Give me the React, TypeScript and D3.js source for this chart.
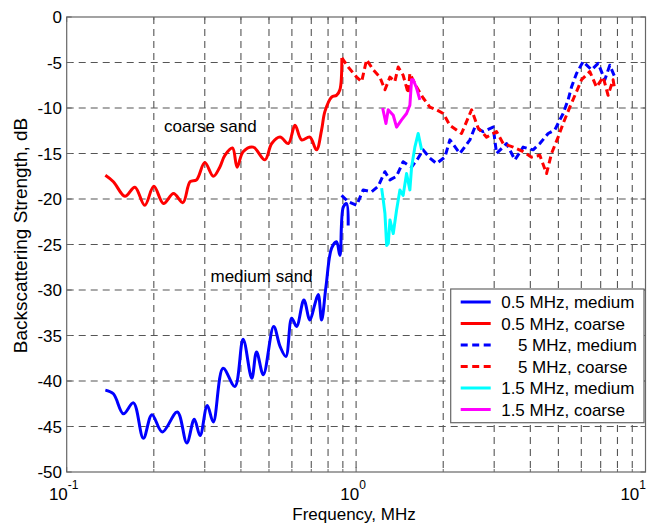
import * as d3 from 'd3'

const W = 649
const H = 527
const plotLeft = 66.7
const plotRight = 645.5
const plotTop = 17
const plotBottom = 472

// frequency (MHz), backscattering strength (dB)
const medium05: [number, number][] = [
  [0.136, -41.0], [0.145, -41.4], [0.157, -43.6], [0.17, -42.4], [0.184, -46.3],
  [0.197, -43.7], [0.214, -45.6], [0.241, -43.4], [0.26, -46.8], [0.276, -44.2],
  [0.289, -46.0], [0.306, -42.7], [0.321, -44.5], [0.347, -38.6], [0.381, -40.6],
  [0.407, -35.4], [0.436, -39.7], [0.453, -36.8], [0.478, -39.3], [0.519, -34.0],
  [0.546, -36.2], [0.572, -37.3], [0.599, -33.1], [0.623, -34.0], [0.66, -31.1],
  [0.692, -33.3], [0.721, -31.5], [0.74, -30.5], [0.76, -33.3], [0.787, -29.6],
  [0.823, -25.4], [0.856, -24.7], [0.879, -26.2], [0.903, -20.9], [0.927, -20.5],
  [0.939, -22.9],
]

const coarse05: [number, number][] = [
  [0.136, -17.4], [0.145, -18.1], [0.159, -19.7], [0.172, -18.7], [0.186, -20.7],
  [0.2, -18.6], [0.216, -20.5], [0.234, -19.4], [0.252, -20.4], [0.267, -18.1],
  [0.281, -17.9], [0.3, -16.0], [0.321, -17.5], [0.338, -16.5], [0.352, -15.2],
  [0.374, -14.4], [0.388, -16.5], [0.407, -14.8], [0.441, -14.3], [0.484, -15.7],
  [0.511, -13.9], [0.546, -13.2], [0.583, -13.9], [0.615, -11.9], [0.648, -13.5],
  [0.692, -13.2], [0.73, -14.6], [0.76, -12.4], [0.78, -10.4], [0.823, -8.8],
  [0.856, -8.6], [0.879, -8.0], [0.893, -4.5],
]

const medium5: [number, number][] = [
  [0.891, -19.6], [0.939, -20.3], [1.004, -20.7], [1.058, -19.0], [1.131, -19.2],
  [1.192, -18.6], [1.258, -17.0], [1.309, -17.9], [1.38, -17.5], [1.454, -15.9],
  [1.555, -16.5], [1.639, -15.5], [1.705, -14.6], [1.798, -15.5], [1.897, -16.1],
  [2.027, -15.4], [2.109, -13.5], [2.283, -15.0], [2.473, -13.5], [2.573, -12.1],
  [2.748, -12.6], [2.976, -12.1], [3.057, -15.0], [3.311, -13.9], [3.537, -15.7],
  [3.778, -14.3], [4.09, -14.6], [4.314, -13.9], [4.609, -12.8], [4.862, -12.4],
  [5.193, -10.6], [5.403, -9.1], [5.551, -7.7], [5.777, -6.2], [6.088, -4.9],
  [6.509, -5.8], [6.86, -5.1], [7.233, -6.9], [7.527, -5.3], [7.834, -6.6],
]

const coarse5: [number, number][] = [
  [0.893, -4.5], [0.939, -5.5], [1.004, -6.6], [1.045, -7.1], [1.087, -4.7],
  [1.146, -5.8], [1.208, -6.6], [1.258, -8.0], [1.309, -6.6], [1.361, -7.1],
  [1.398, -5.5], [1.454, -6.4], [1.514, -8.4], [1.534, -6.2], [1.618, -7.7],
  [1.705, -8.9], [1.798, -9.9], [1.897, -10.2], [2.0, -10.6], [2.109, -11.9],
  [2.314, -12.8], [2.506, -10.2], [2.641, -12.2], [2.823, -13.2], [3.057, -12.6],
  [3.222, -13.9], [3.489, -14.3], [3.778, -14.8], [4.038, -15.4], [4.314, -15.2],
  [4.55, -17.2], [4.735, -15.0], [4.99, -13.2], [5.193, -11.7], [5.477, -9.9],
  [5.777, -8.2], [6.011, -6.9], [6.42, -6.0], [6.772, -7.7], [7.137, -6.6],
  [7.426, -8.6], [7.727, -6.9], [7.834, -8.0],
]

const medium15: [number, number][] = [
  [1.225, -18.8], [1.241, -20.1], [1.258, -21.6], [1.275, -25.1], [1.292, -24.9],
  [1.309, -22.3], [1.344, -23.8], [1.38, -21.2], [1.417, -19.0], [1.454, -19.6],
  [1.494, -17.2], [1.534, -19.0], [1.555, -16.5], [1.596, -14.3], [1.639, -12.8],
  [1.684, -14.6],
]

const coarse15: [number, number][] = [
  [1.235, -10.0], [1.268, -11.7], [1.291, -10.2], [1.344, -10.8], [1.38, -12.1],
  [1.436, -11.3], [1.494, -10.6], [1.534, -9.7], [1.555, -6.9], [1.575, -6.9],
  [1.618, -7.8], [1.661, -9.1],
]

const legendLabels = [
  '0.5 MHz, medium',
  '0.5 MHz, coarse',
  '5 MHz, medium',
  '5 MHz, coarse',
  '1.5 MHz, medium',
  '1.5 MHz, coarse',
]

const xMajor = [0.1, 1, 10]
const xExp = ['-1', '0', '1']
const yTicks = [0, -5, -10, -15, -20, -25, -30, -35, -40, -45, -50]

const series = [
  { data: medium05, color: '#0000ff', dashed: false, smooth: true },
  { data: coarse05, color: '#ff0000', dashed: false, smooth: true },
  { data: medium5, color: '#0000ff', dashed: true, smooth: false },
  { data: coarse5, color: '#ff0000', dashed: true, smooth: false },
  { data: medium15, color: '#00ffff', dashed: false, smooth: false },
  { data: coarse15, color: '#ff00ff', dashed: false, smooth: false },
]

const font = '"Liberation Sans", Arial, sans-serif'

export default function App() {
  const x = d3.scaleLog().domain([0.1, 10]).range([plotLeft, plotRight])
  const y = d3.scaleLinear().domain([-50, 0]).range([plotBottom, plotTop])

  // grid at every decade and each minor step in between
  const xGrid = x.ticks().filter(v => v > 0.1 && v < 10)

  const line = d3
    .line<[number, number]>()
    .x(d => x(d[0]))
    .y(d => y(d[1]))
  const smoothLine = d3
    .line<[number, number]>()
    .x(d => x(d[0]))
    .y(d => y(d[1]))
    .curve(d3.curveCatmullRom.alpha(0.5))

  const legX = 450.7
  const legY = 289
  const legW = 193.3
  const legH = 133.7
  const rowH = 21.5

  return (
    <svg
      width={W}
      height={H}
      style={{ position: 'absolute', left: 0, top: 0, background: '#fff' }}
      fontFamily={font}
    >
      <rect x={0} y={0} width={W} height={H} fill="#fff" />

      {/* grid */}
      <g stroke="#555" strokeWidth={1.1} strokeDasharray="7,5">
        {xGrid.map(v => (
          <line key={'gx' + v} x1={x(v)} x2={x(v)} y1={plotTop} y2={plotBottom} />
        ))}
        {yTicks
          .filter(v => v !== 0 && v !== -50)
          .map(v => (
            <line key={'gy' + v} x1={plotLeft} x2={plotRight} y1={y(v)} y2={y(v)} />
          ))}
      </g>

      {/* frame */}
      <rect
        x={plotLeft}
        y={plotTop}
        width={plotRight - plotLeft}
        height={plotBottom - plotTop}
        fill="none"
        stroke="#666"
        strokeWidth={1.2}
      />

      {/* tick marks */}
      <g stroke="#666" strokeWidth={1}>
        {yTicks.map(v => (
          <g key={'ty' + v}>
            <line x1={plotLeft} x2={plotLeft + 5} y1={y(v)} y2={y(v)} />
            <line x1={plotRight} x2={plotRight - 5} y1={y(v)} y2={y(v)} />
          </g>
        ))}
        {x.ticks().map(v => (
          <g key={'tx' + v}>
            <line x1={x(v)} x2={x(v)} y1={plotBottom} y2={plotBottom - (xMajor.includes(v) ? 5 : 3)} />
            <line x1={x(v)} x2={x(v)} y1={plotTop} y2={plotTop + (xMajor.includes(v) ? 5 : 3)} />
          </g>
        ))}
      </g>

      {/* curves */}
      <g fill="none" strokeWidth={3} strokeLinejoin="round">
        {series.map((s, i) => (
          <path
            key={i}
            d={(s.smooth ? smoothLine(s.data) : line(s.data)) || ''}
            stroke={s.color}
            strokeDasharray={s.dashed ? '7,4' : undefined}
          />
        ))}
      </g>

      {/* y tick labels */}
      <g fontSize={17} textAnchor="end" fill="#000">
        {yTicks.map(v => (
          <text key={'ly' + v} x={62} y={y(v)} dy="0.36em">
            {v}
          </text>
        ))}
      </g>

      {/* x tick labels */}
      <g fill="#000">
        {xMajor.map((v, i) => (
          <text
            key={'lx' + v}
            x={i === 2 ? 646 : x(v) - 3}
            y={500}
            fontSize={17}
            textAnchor={i === 2 ? 'end' : 'middle'}
          >
            10
            <tspan fontSize={12} dy={-11}>
              {xExp[i]}
            </tspan>
          </text>
        ))}
      </g>

      {/* axis titles */}
      <text x={354} y={520} fontSize={17} textAnchor="middle" fill="#000">
        Frequency, MHz
      </text>
      <text
        transform={`translate(27, ${(plotTop + plotBottom) / 2 - 9}) rotate(-90)`}
        fontSize={19}
        textAnchor="middle"
        fill="#000"
      >
        Backscattering Strength, dB
      </text>

      {/* annotations */}
      <text x={164} y={132} fontSize={17} fill="#000">
        coarse sand
      </text>
      <text x={210.5} y={282} fontSize={17} fill="#000">
        medium sand
      </text>

      {/* legend */}
      <g>
        <rect x={legX} y={legY} width={legW} height={legH} fill="#fff" stroke="#666" strokeWidth={1.2} />
        {series.map((s, i) => {
          const cy = legY + 13 + i * rowH
          return (
            <g key={'leg' + i}>
              <line
                x1={legX + 10}
                x2={legX + 40}
                y1={cy}
                y2={cy}
                stroke={s.color}
                strokeWidth={3}
                strokeDasharray={s.dashed ? '7,4.5' : undefined}
              />
              <text
                x={legX + 50.5 + (legendLabels[i].startsWith('5') ? 16.7 : 0)}
                y={cy}
                dy="0.36em"
                fontSize={17}
                fill="#000"
              >
                {legendLabels[i]}
              </text>
            </g>
          )
        })}
      </g>
    </svg>
  )
}
